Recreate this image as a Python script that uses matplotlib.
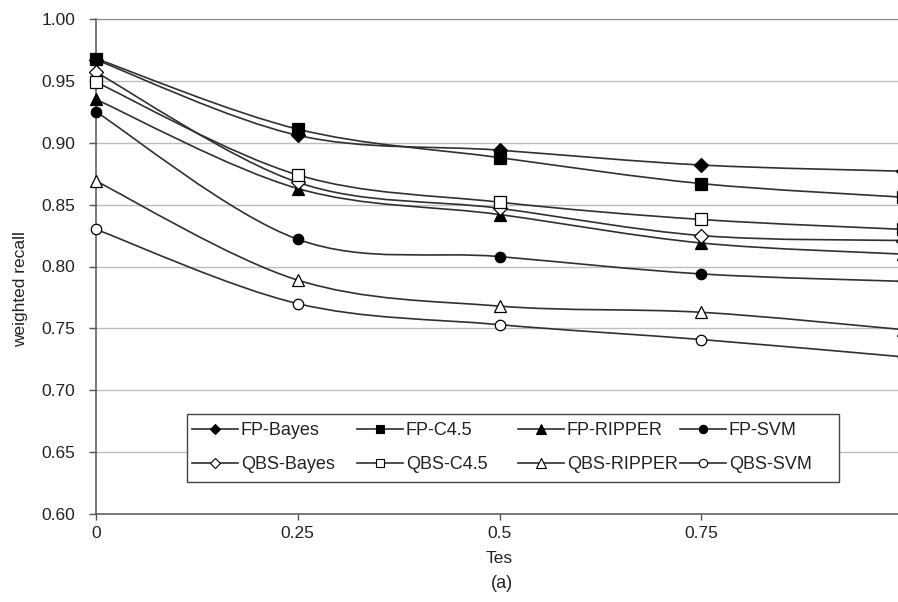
import matplotlib.pyplot as plt
from matplotlib.path import Path
from matplotlib.patches import PathPatch, Rectangle
from matplotlib.lines import Line2D

plt.rcParams['font.family'] = ['Liberation Sans', 'DejaVu Sans']

tes = [0, 0.25, 0.5, 0.75, 1.0]

fp_bayes   = [0.967, 0.906, 0.894, 0.882, 0.877]
fp_c45     = [0.968, 0.911, 0.888, 0.867, 0.856]
fp_ripper  = [0.935, 0.863, 0.842, 0.819, 0.810]
fp_svm     = [0.925, 0.822, 0.808, 0.794, 0.788]
qbs_bayes  = [0.957, 0.868, 0.847, 0.825, 0.821]
qbs_c45    = [0.949, 0.874, 0.852, 0.838, 0.830]
qbs_ripper = [0.869, 0.789, 0.768, 0.763, 0.749]
qbs_svm    = [0.830, 0.770, 0.753, 0.741, 0.727]

series = [
    ('FP-Bayes',   fp_bayes,   'D', 'black', 7),
    ('FP-C4.5',    fp_c45,     's', 'black', 8),
    ('FP-RIPPER',  fp_ripper,  '^', 'black', 8.5),
    ('FP-SVM',     fp_svm,     'o', 'black', 7.5),
    ('QBS-Bayes',  qbs_bayes,  'D', 'white', 7),
    ('QBS-C4.5',   qbs_c45,    's', 'white', 8),
    ('QBS-RIPPER', qbs_ripper, '^', 'white', 8.5),
    ('QBS-SVM',    qbs_svm,    'o', 'white', 7.5),
]

LINE = '#303030'
TEXT = '#222222'
FS = 12.5
W, H = 898, 602


def smooth_path(xs, ys):
    # excel-style smoothed line: cubic bezier segments, catmull-rom tangents
    pts = list(zip(xs, ys))
    verts = [pts[0]]
    codes = [Path.MOVETO]
    n = len(pts)
    for i in range(n - 1):
        p0 = pts[i - 1] if i > 0 else pts[i]
        p1 = pts[i]
        p2 = pts[i + 1]
        p3 = pts[i + 2] if i + 2 < n else pts[i + 1]
        c1 = (p1[0] + (p2[0] - p0[0]) / 6, p1[1] + (p2[1] - p0[1]) / 6)
        c2 = (p2[0] - (p3[0] - p1[0]) / 6, p2[1] - (p3[1] - p1[1]) / 6)
        verts += [c1, c2, p2]
        codes += [Path.CURVE4] * 3
    return Path(verts, codes)


fig = plt.figure(figsize=(W / 100, H / 100), dpi=100)
ax = fig.add_axes([96 / W, 88 / H, 807 / W, 495 / H])

handles = []
for name, vals, mk, face, ms in series:
    ax.add_patch(PathPatch(smooth_path(tes, vals), fill=False,
                           edgecolor=LINE, lw=1.2, zorder=2))
    ax.plot(tes, vals, linestyle='none', marker=mk, markersize=ms,
            markerfacecolor=face, markeredgecolor='black',
            markeredgewidth=0.9, zorder=3, clip_on=False)
    handles.append(Line2D([], [], color=LINE, lw=1.2, marker=mk,
                          markersize=ms * 0.8, markerfacecolor=face,
                          markeredgecolor='black', markeredgewidth=0.8))

ax.set_xlim(0, 1)
ax.set_ylim(0.60, 1.00)
ax.set_xticks([0, 0.25, 0.5, 0.75])
ax.set_xticklabels(['0', '0.25', '0.5', '0.75'])
ax.set_yticks([0.60, 0.65, 0.70, 0.75, 0.80, 0.85, 0.90, 0.95, 1.00])
ax.set_yticklabels([f'{v:.2f}' for v in ax.get_yticks()])
ax.yaxis.grid(True, color='#bdbdbd', lw=1)
ax.set_axisbelow(True)
ax.tick_params(axis='both', labelsize=FS, colors='#555555',
               labelcolor=TEXT, length=5, width=1)
ax.tick_params(axis='x', length=4, pad=5)
ax.tick_params(axis='y', pad=10)
for side in ['left', 'bottom']:
    ax.spines[side].set_color('#555555')
    ax.spines[side].set_linewidth(1.1)
ax.spines['top'].set_color('#888888')
ax.spines['right'].set_visible(False)

ax.set_xlabel('Tes', fontsize=FS, color=TEXT, labelpad=7)
ax.set_ylabel('weighted recall', fontsize=FS, color=TEXT)
ax.yaxis.set_label_coords(-0.084, 0.455)
fig.text(0.559, 0.031, '(a)', fontsize=13, color=TEXT, ha='center', va='center')

# legend: equal-width columns (FP row on top, QBS row below) inside one frame
fig.add_artist(Rectangle((187 / W, (H - 482) / H), 652 / W, 68 / H,
                         transform=fig.transFigure, facecolor='white',
                         edgecolor='#444444', lw=1.0, zorder=4))
col_x = [192, 357, 518, 680]
for c, x in enumerate(col_x):
    pair = [c, c + 4]
    leg = fig.legend([handles[i] for i in pair], [series[i][0] for i in pair],
                     loc='upper left', bbox_to_anchor=(x / W, (H - 422) / H),
                     fontsize=13, frameon=False, borderpad=0, borderaxespad=0,
                     handlelength=2.55, handletextpad=0.15, labelspacing=0.94)
    for t in leg.get_texts():
        t.set_color(TEXT)

fig.savefig('out.png', dpi=100, facecolor='white')
